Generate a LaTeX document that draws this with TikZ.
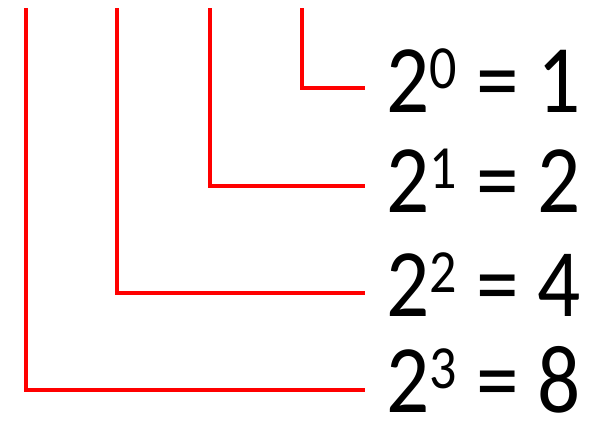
\documentclass[tikz,border=0pt]{standalone}
\usepackage{fontspec}
\setmainfont{Carlito}
\newcommand{\pw}[2]{\scalebox{1.04}[1.18]{2\raisebox{20pt}{\fontsize{52}{52}\selectfont #1} = #2}}
\begin{document}
\begin{tikzpicture}[x=1pt,y=-1pt,
  eqtext/.style={anchor=base west,inner sep=0pt,font=\fontsize{82}{90}\selectfont},
  redline/.style={draw=red,line width=4pt,line join=miter}]
\useasboundingbox (0,0) rectangle (595,424);
\node[eqtext] (t0) at (386,112) {\pw{0}{1}};
\node[eqtext] (t1) at (386,212) {\pw{1}{2}};
\node[eqtext] (t2) at (386,316) {\pw{2}{4}};
\node[eqtext] (t3) at (386,412) {\pw{3}{8}};
\coordinate (s0) at (302,8);
\coordinate (s1) at (210,8);
\coordinate (s2) at (117,8);
\coordinate (s3) at (26,8);
\coordinate (e0) at (365,88);
\coordinate (e1) at (365,186);
\coordinate (e2) at (365,293);
\coordinate (e3) at (365,390);
\draw[redline] (s0) |- (e0);
\draw[redline] (s1) |- (e1);
\draw[redline] (s2) |- (e2);
\draw[redline] (s3) |- (e3);
\end{tikzpicture}
\end{document}
